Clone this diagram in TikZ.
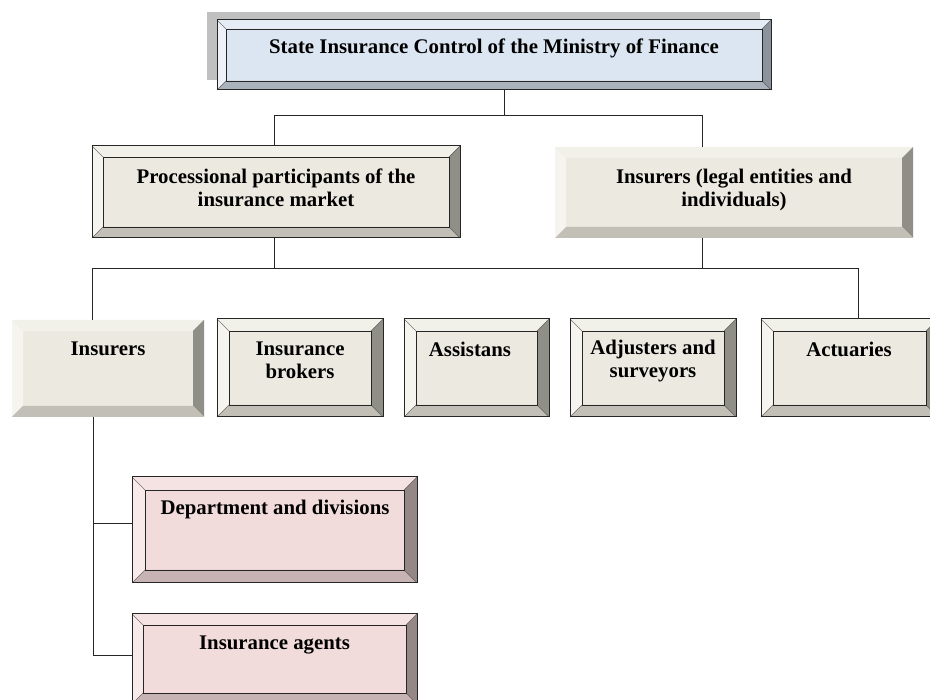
\documentclass[tikz,border=0pt]{standalone}
\usepackage{fontspec}
\setmainfont{Liberation Serif}
\usetikzlibrary{calc}

\definecolor{bluefill}{HTML}{DCE6F2}
\definecolor{blueL}{HTML}{EEF2F8}
\definecolor{blueT}{HTML}{E5ECF5}
\definecolor{blueR}{HTML}{8B939C}
\definecolor{blueB}{HTML}{AAB2BB}
\definecolor{beigefill}{HTML}{ECEAE0}
\definecolor{beigeL}{HTML}{F5F4EE}
\definecolor{beigeT}{HTML}{F1F0E9}
\definecolor{beigeR}{HTML}{8F8F88}
\definecolor{beigeB}{HTML}{C2BFB6}
\definecolor{pinkfill}{HTML}{F2DCDB}
\definecolor{pinkL}{HTML}{F8EAEA}
\definecolor{pinkT}{HTML}{F5E3E3}
\definecolor{pinkR}{HTML}{968787}
\definecolor{pinkB}{HTML}{C7B3B3}
\definecolor{shadowgray}{HTML}{C0C0C0}

% #1 node, #2 bevel width, #3-#6 left/top/right/bottom colours, #7 outline options
\newcommand\bevelbox[7]{%
  \fill[#3] (#1.south west) -- (#1.north west) -- ($(#1.north west)+(#2pt,-#2pt)$) -- ($(#1.south west)+(#2pt,#2pt)$) -- cycle;
  \fill[#4] (#1.north west) -- (#1.north east) -- ($(#1.north east)+(-#2pt,-#2pt)$) -- ($(#1.north west)+(#2pt,-#2pt)$) -- cycle;
  \fill[#5] (#1.north east) -- (#1.south east) -- ($(#1.south east)+(-#2pt,#2pt)$) -- ($(#1.north east)+(-#2pt,-#2pt)$) -- cycle;
  \fill[#6] (#1.south east) -- (#1.south west) -- ($(#1.south west)+(#2pt,#2pt)$) -- ($(#1.south east)+(-#2pt,#2pt)$) -- cycle;
  \draw[#7, line width=0.5pt, draw opacity=0.6] (#1.north west) -- ++(#2pt,-#2pt) (#1.north east) -- ++(-#2pt,-#2pt)
        (#1.south west) -- ++(#2pt,#2pt) (#1.south east) -- ++(-#2pt,#2pt);
  \draw[#7, line width=0.9pt] ($(#1.north west)+(#2pt,-#2pt)$) rectangle ($(#1.south east)+(-#2pt,#2pt)$);
  \draw[#7, line width=1pt] (#1.north west) rectangle (#1.south east);
}

\tikzset{
  bx/.style={rectangle, inner sep=0pt, outer sep=0pt, draw=none},
  lbl/.style={anchor=base, align=center, inner sep=0pt, font=\bfseries\fontsize{20.8}{23.5}\selectfont},
  conn/.style={line width=0.9pt, draw=black!85},
  edge/.style={draw=black!85},
  noedge/.style={draw=none},
}

\begin{document}
\begin{tikzpicture}[x=1pt, y=-1pt]
\useasboundingbox (0,0) rectangle (930,700);
\fill[white] (0,0) rectangle (930,700);

% shadow of the top box
\fill[shadowgray] (207,12) rectangle (760,80);

% boxes
\node[bx, fill=bluefill, minimum width=554pt, minimum height=70pt] (top) at (494,55) {};
\bevelbox{top}{9}{blueL}{blueT}{blueR}{blueB}{edge}

\node[bx, fill=beigefill, minimum width=368pt, minimum height=92pt] (proc) at (276,192) {};
\bevelbox{proc}{11}{beigeL}{beigeT}{beigeR}{beigeB}{edge}

\node[bx, fill=beigefill, minimum width=358pt, minimum height=91pt] (legal) at (734,192.5) {};
\bevelbox{legal}{11}{beigeL}{beigeT}{beigeR}{beigeB}{noedge}

\node[bx, fill=beigefill, minimum width=192pt, minimum height=97pt] (ins) at (108,368.5) {};
\bevelbox{ins}{11}{beigeL}{beigeT}{beigeR}{beigeB}{noedge}

\node[bx, fill=beigefill, minimum width=166pt, minimum height=98pt] (brok) at (300,368) {};
\bevelbox{brok}{12}{beigeL}{beigeT}{beigeR}{beigeB}{edge}

\node[bx, fill=beigefill, minimum width=145pt, minimum height=98pt] (assist) at (476.5,368) {};
\bevelbox{assist}{12}{beigeL}{beigeT}{beigeR}{beigeB}{edge}

\node[bx, fill=beigefill, minimum width=166pt, minimum height=98pt] (adjust) at (653,368) {};
\bevelbox{adjust}{12}{beigeL}{beigeT}{beigeR}{beigeB}{edge}

\node[bx, fill=beigefill, minimum width=177pt, minimum height=98pt] (actu) at (849.5,368) {};
\bevelbox{actu}{12}{beigeL}{beigeT}{beigeR}{beigeB}{edge}

\node[bx, fill=pinkfill, minimum width=285pt, minimum height=106pt] (dept) at (274.5,530) {};
\bevelbox{dept}{13}{pinkL}{pinkT}{pinkR}{pinkB}{edge}

\node[bx, fill=pinkfill, minimum width=285pt, minimum height=90pt] (agents) at (274.5,659) {};
\bevelbox{agents}{11}{pinkL}{pinkT}{pinkR}{pinkB}{edge}

% labels (anchor base = baseline of the last line)
\node[lbl] (ttop) at (494,54) {State Insurance Control of the Ministry of Finance};
\node[lbl] (tproc) at (276,207) {Processional participants of the\\insurance market};
\node[lbl] (tlegal) at (734,207) {Insurers (legal entities and\\individuals)};
\node[lbl] (tins) at (108,356) {Insurers};
\node[lbl] (tbrok) at (300,379) {Insurance\\brokers};
\node[lbl] (tassist) at (470,357) {Assistans};
\node[lbl] (tadjust) at (653,378) {Adjusters and\\surveyors};
\node[lbl] (tactu) at (849,357) {Actuaries};
\node[lbl] (tdept) at (275,515) {Department and divisions};
\node[lbl] (tagents) at (274.5,649) {Insurance agents};

% connector junctions
\coordinate (j0) at (504,115);
\coordinate (j1) at (274,115);
\coordinate (j2) at (702,115);
\coordinate (k1) at (274,268);
\coordinate (k2) at (702,268);
\coordinate (k0) at (92,268);
\coordinate (k3) at (858,268);
\coordinate (m0) at (93,417);
\coordinate (m1) at (93,523);
\coordinate (m2) at (93,655);

% connectors
\draw[conn] (j0 |- top.south) -- (j0);
\draw[conn] (j1 |- proc.north) -- (j1) -- (j2) -- (j2 |- legal.north);
\draw[conn] (k1 |- proc.south) -- (k1);
\draw[conn] (k2 |- legal.south) -- (k2);
\draw[conn] (k0 |- ins.north) -- (k0) -- (k3) -- (k3 |- actu.north);
\draw[conn] (m0 |- ins.south) -- (m2) -- (m2 -| agents.west);
\draw[conn] (m1) -- (m1 -| dept.west);
\end{tikzpicture}
\end{document}
